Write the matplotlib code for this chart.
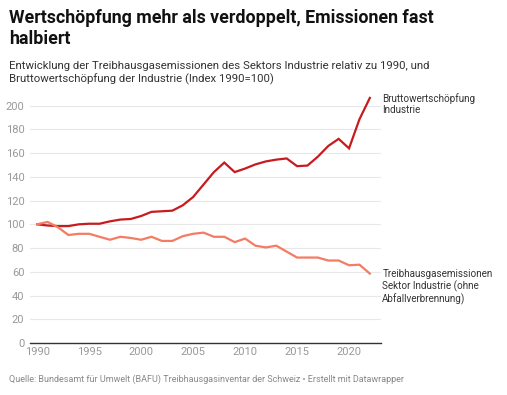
import numpy as np
import matplotlib.pyplot as plt

plt.rcParams['font.family'] = ['Roboto', 'DejaVu Sans']

# Index 1990 = 100
years = list(range(1990, 2023))
wertschoepfung = [100, 99, 98.5, 98.5, 100, 100.5, 100.5, 102.5, 104, 104.5,
                  107, 110.5, 111, 111.5, 116, 123, 133.5, 144, 152, 144,
                  147, 150.5, 153, 154.5, 155.5, 149, 149.5, 157, 166, 172,
                  164, 188.5, 206.5]
emissionen = [100, 102, 97.5, 91, 92, 92, 89.5, 87, 89.5, 88.5,
              87, 89.5, 86, 86, 90, 92, 93, 89.5, 89.5, 85,
              88, 82, 80.5, 82, 77, 72, 72, 72, 69.5, 69.5,
              65.5, 66, 58.5]
yticks = [0, 20, 40, 60, 80, 100, 120, 140, 160, 180, 200]
xticks = [1990, 1995, 2000, 2005, 2010, 2015, 2020]

red = "#c71b1e"
pink = "#f47b64"

fig = plt.figure(figsize=(5.07, 3.95), dpi=100)
ax = fig.add_axes([0.059, 0.1316, 0.692, 0.601])

ax.plot(years, wertschoepfung, color=red, lw=1.6, solid_joinstyle="miter", clip_on=False)
ax.plot(years, emissionen, color=pink, lw=1.6, solid_joinstyle="miter", clip_on=False)

ax.set_xlim(1989.3, 2023.05)
ax.set_ylim(0, 200)
ax.set_yticks(yticks)
ax.set_xticks(xticks)
ax.grid(axis="y", color="#e8e8e8", lw=0.8)
ax.set_axisbelow(True)
for s in ["top", "right", "left"]:
    ax.spines[s].set_visible(False)
ax.spines["bottom"].set_color("#333333")
ax.spines["bottom"].set_linewidth(1.0)
ax.tick_params(axis="both", length=0, labelsize=8, labelcolor="#999999")
ax.tick_params(axis="y", pad=4)
ax.tick_params(axis="x", pad=3)

# direct labels at line ends
ax.text(2023.2, wertschoepfung[-1] + 4, "Bruttowertschöpfung\nIndustrie",
        fontsize=7.1, color="#333333", va="top", ha="left", linespacing=1.15,
        clip_on=False)
ax.text(2023.2, emissionen[-1] + 3.5, "Treibhausgasemissionen\nSektor Industrie (ohne\nAbfallverbrennung)",
        fontsize=7.1, color="#333333", va="top", ha="left", linespacing=1.15,
        clip_on=False)

fig.text(0.018, 0.978, "Wertschöpfung mehr als verdoppelt, Emissionen fast\nhalbiert",
         fontsize=12.8, fontweight="bold", color="#111111", va="top", ha="left",
         linespacing=1.25)
fig.text(0.018, 0.845, "Entwicklung der Treibhausgasemissionen des Sektors Industrie relativ zu 1990, und\n"
         "Bruttowertschöpfung der Industrie (Index 1990=100)",
         fontsize=8.2, color="#333333", va="top", ha="left", linespacing=1.2)
fig.text(0.018, 0.028, "Quelle: Bundesamt für Umwelt (BAFU) Treibhausgasinventar der Schweiz • Erstellt mit Datawrapper",
         fontsize=6.45, color="#888888", va="bottom", ha="left")

fig.savefig("out.png", dpi=100)
